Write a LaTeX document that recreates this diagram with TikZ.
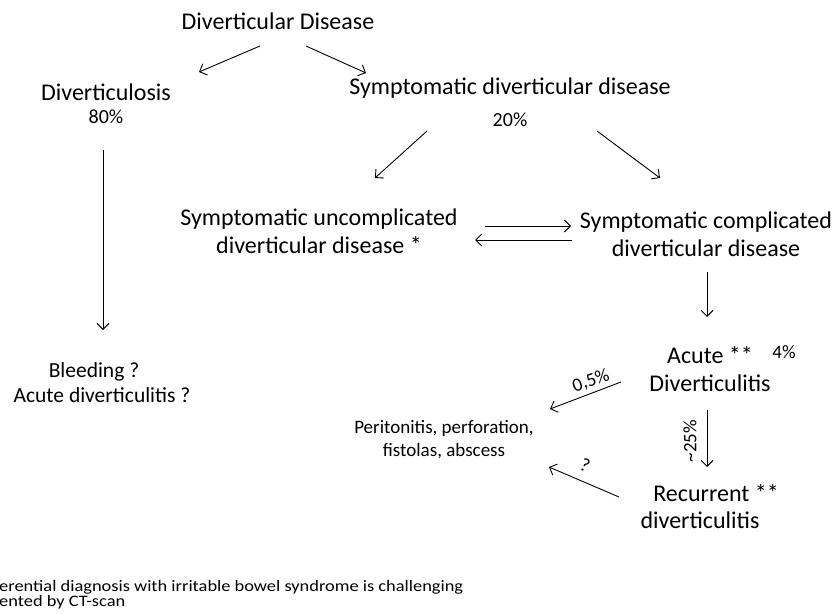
\documentclass[tikz,border=0pt]{standalone}
\usepackage{fontspec}
\setmainfont{Carlito}
\usetikzlibrary{arrows.meta}
\begin{document}
\begin{tikzpicture}[x=1pt,y=-1pt,
  big/.style={font=\fontsize{24}{28}\selectfont, align=center, inner sep=0pt},
  mid/.style={font=\fontsize{21.5}{24}\selectfont, align=center, inner sep=0pt},
  pct/.style={font=\fontsize{20}{24}\selectfont, align=center, inner sep=0pt},
  small/.style={font=\fontsize{19}{15}\selectfont, align=center, inner sep=0pt},
  foot/.style={font=\fontsize{16}{15}\selectfont, inner sep=0pt, anchor=west, xscale=1.15},
  arr/.style={line width=0.9pt, -{Straight Barb[length=6pt,width=12pt,line width=0.9pt]}}]
\useasboundingbox (0,0) rectangle (835,615);
\node[big] (dd) at (278,21) {Diverticular Disease};
\node[big] (dl) at (106,92) {Diverticulosis};
\node[pct] (p80) at (106,117) {80\%};
\node[big] (sdd) at (510,88) {Symptomatic diverticular disease};
\node[pct] (p20) at (510,120) {20\%};
\node[big] (sud) at (319,231) {Symptomatic uncomplicated\\diverticular disease *};
\node[big] (scd) at (706,234) {Symptomatic complicated\\diverticular disease};
\node[mid] (bl1) at (94,372) {Bleeding ?};
\node[mid] (bl2) at (102,395) {Acute diverticulitis ?};
\node[big] (acu) at (710,355) {Acute **};
\node[small] (p4) at (784,352) {4\%};
\node[big] (div) at (710,383) {Diverticulitis};
\node[small] (per1) at (444,428) {Peritonitis, perforation,};
\node[small] (per2) at (444,451) {fistolas, abscess};
\node[big] (rec1) at (716,493) {Recurrent **};
\node[big] (rec2) at (700,520) {diverticulitis};
\node[foot] (f1) at (-1,587) {erential diagnosis with irritable bowel syndrome is challenging};
\node[foot] (f2) at (-1,602) {ented by CT-scan};
% arrow endpoints
\coordinate (a1s) at (260,46); \coordinate (a1e) at (199,72);
\coordinate (a2s) at (306,46); \coordinate (a2e) at (366,73);
\coordinate (a3s) at (427,131); \coordinate (a3e) at (375,178);
\coordinate (a4s) at (597,131); \coordinate (a4e) at (660,178);
\coordinate (a5s) at (103,150); \coordinate (a5e) at (103,330);
\coordinate (a6s) at (485,226); \coordinate (a6e) at (571,226);
\coordinate (a7s) at (572,240); \coordinate (a7e) at (475,240);
\coordinate (a8s) at (707,272); \coordinate (a8e) at (707,317);
\coordinate (a9s) at (621,382); \coordinate (a9e) at (550,409);
\coordinate (a10s) at (707,410); \coordinate (a10e) at (707,467);
\coordinate (a11s) at (619,497); \coordinate (a11e) at (549,467);
\draw[arr] (a1s) -- (a1e);
\draw[arr] (a2s) -- (a2e);
\draw[arr] (a3s) -- (a3e);
\draw[arr] (a4s) -- (a4e);
\draw[arr] (a5s) -- (a5e);
\draw[arr] (a6s) -- (a6e);
\draw[arr] (a7s) -- (a7e);
\draw[arr] (a8s) -- (a8e);
\draw[arr] (a9s) -- (a9e);
\draw[arr] (a10s) -- (a10e);
\draw[arr] (a11s) -- (a11e);
\node[small, rotate=19] (l05) at (591,381) {0,5\%};
\node[small, rotate=90] (l25) at (690,441) {\~{}25\%};
\node[small, rotate=-22] (lq) at (585,465) {?};
\end{tikzpicture}
\end{document}
